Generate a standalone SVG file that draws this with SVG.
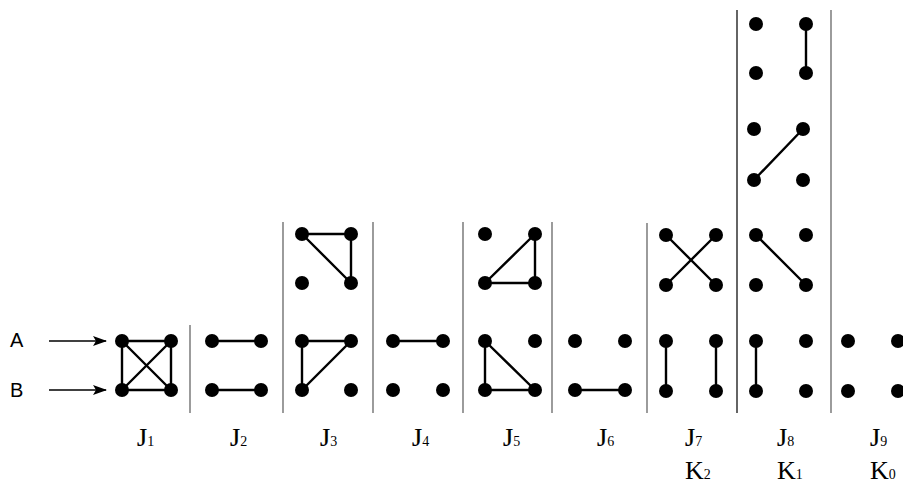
<svg xmlns="http://www.w3.org/2000/svg" width="903" height="485" viewBox="0 0 903 485">
  <style>
    .dot { fill: #000; }
    .edge { stroke: #000; stroke-width: 2.4; stroke-linecap: round; fill: none; }
    .sep { stroke: #666; stroke-width: 1.3; }
    .sep-dark { stroke: #111; stroke-width: 1.3; }
    .arrow { stroke: #000; stroke-width: 1.5; fill: none; }
    .io { font-family: "Liberation Sans", Arial, sans-serif; font-size: 20px; fill: #000; }
    .lbl { font-family: "Liberation Serif", "Times New Roman", serif; font-size: 26px; fill: #000; }
    .j { stroke: #000; stroke-width: 0.2; }
    .sub { font-size: 14px; stroke-width: 0; }
  </style>
  <defs>
    <marker id="head" markerWidth="14" markerHeight="10" refX="13" refY="5" orient="auto" markerUnits="userSpaceOnUse">
      <path d="M0,0 L14,5 L0,10 L3,5 Z" fill="#000"/>
    </marker>
    <circle id="d" r="7"/>
  </defs>

  <!-- column separators -->
  <g id="separators">
    <line class="sep" x1="190" y1="325" x2="190" y2="413"/>
    <line class="sep" x1="283" y1="222" x2="283" y2="413"/>
    <line class="sep" x1="373" y1="222" x2="373" y2="413"/>
    <line class="sep" x1="463" y1="222" x2="463" y2="413"/>
    <line class="sep" x1="552" y1="222" x2="552" y2="413"/>
    <line class="sep" x1="647" y1="223" x2="647" y2="413"/>
    <line class="sep-dark" x1="737" y1="10" x2="737" y2="413"/>
    <line class="sep" x1="831" y1="10" x2="831" y2="413"/>
  </g>

  <!-- input arrows -->
  <g id="inputs">
    <text class="io" x="10" y="347">A</text>
    <text class="io" x="10" y="397">B</text>
    <line class="arrow" x1="49" y1="341" x2="106" y2="341" marker-end="url(#head)"/>
    <line class="arrow" x1="49" y1="390" x2="106" y2="390" marker-end="url(#head)"/>
  </g>

  <!-- connectors (graph edges) -->
  <g id="edges">
    <!-- J1: complete graph -->
    <line class="edge" x1="122" y1="341" x2="171" y2="341"/>
    <line class="edge" x1="122" y1="390" x2="171" y2="390"/>
    <line class="edge" x1="122" y1="341" x2="122" y2="390"/>
    <line class="edge" x1="171" y1="341" x2="171" y2="390"/>
    <line class="edge" x1="122" y1="341" x2="171" y2="390"/>
    <line class="edge" x1="171" y1="341" x2="122" y2="390"/>
    <!-- J2 -->
    <line class="edge" x1="212" y1="341" x2="261" y2="341"/>
    <line class="edge" x1="212" y1="390" x2="261" y2="390"/>
    <!-- J3 -->
    <line class="edge" x1="302" y1="234" x2="351" y2="234"/>
    <line class="edge" x1="351" y1="234" x2="351" y2="283"/>
    <line class="edge" x1="302" y1="234" x2="351" y2="283"/>
    <line class="edge" x1="302" y1="341" x2="351" y2="341"/>
    <line class="edge" x1="302" y1="341" x2="302" y2="390"/>
    <line class="edge" x1="302" y1="390" x2="351" y2="341"/>
    <!-- J4 -->
    <line class="edge" x1="393" y1="341" x2="443" y2="341"/>
    <!-- J5 -->
    <line class="edge" x1="535" y1="234" x2="535" y2="283"/>
    <line class="edge" x1="485" y1="283" x2="535" y2="283"/>
    <line class="edge" x1="485" y1="283" x2="535" y2="234"/>
    <line class="edge" x1="485" y1="341" x2="485" y2="390"/>
    <line class="edge" x1="485" y1="390" x2="535" y2="390"/>
    <line class="edge" x1="485" y1="341" x2="535" y2="390"/>
    <!-- J6 -->
    <line class="edge" x1="575" y1="390" x2="625" y2="390"/>
    <!-- J7 -->
    <line class="edge" x1="666" y1="235" x2="716" y2="285"/>
    <line class="edge" x1="716" y1="235" x2="666" y2="285"/>
    <line class="edge" x1="666" y1="341" x2="666" y2="391"/>
    <line class="edge" x1="716" y1="341" x2="716" y2="391"/>
    <!-- J8 -->
    <line class="edge" x1="806" y1="24" x2="806" y2="73"/>
    <line class="edge" x1="754" y1="180" x2="803" y2="129"/>
    <line class="edge" x1="756" y1="235" x2="806" y2="285"/>
    <line class="edge" x1="756" y1="341" x2="756" y2="391"/>
  </g>

  <g id="J1">
    <use href="#d" x="122" y="341"/><use href="#d" x="171" y="341"/>
    <use href="#d" x="122" y="390"/><use href="#d" x="171" y="390"/>
    <text class="lbl j" x="137" y="446">J<tspan class="sub">1</tspan></text>
  </g>
  <g id="J2">
    <use href="#d" x="212" y="341"/><use href="#d" x="261" y="341"/>
    <use href="#d" x="212" y="390"/><use href="#d" x="261" y="390"/>
    <text class="lbl j" x="230" y="446">J<tspan class="sub">2</tspan></text>
  </g>
  <g id="J3">
    <use href="#d" x="302" y="234"/><use href="#d" x="351" y="234"/>
    <use href="#d" x="302" y="283"/><use href="#d" x="351" y="283"/>
    <use href="#d" x="302" y="341"/><use href="#d" x="351" y="341"/>
    <use href="#d" x="302" y="390"/><use href="#d" x="351" y="390"/>
    <text class="lbl j" x="320" y="446">J<tspan class="sub">3</tspan></text>
  </g>
  <g id="J4">
    <use href="#d" x="393" y="341"/><use href="#d" x="443" y="341"/>
    <use href="#d" x="393" y="390"/><use href="#d" x="443" y="390"/>
    <text class="lbl j" x="412" y="446">J<tspan class="sub">4</tspan></text>
  </g>
  <g id="J5">
    <use href="#d" x="485" y="234"/><use href="#d" x="535" y="234"/>
    <use href="#d" x="485" y="283"/><use href="#d" x="535" y="283"/>
    <use href="#d" x="485" y="341"/><use href="#d" x="535" y="341"/>
    <use href="#d" x="485" y="390"/><use href="#d" x="535" y="390"/>
    <text class="lbl j" x="503" y="446">J<tspan class="sub">5</tspan></text>
  </g>
  <g id="J6">
    <use href="#d" x="575" y="341"/><use href="#d" x="625" y="341"/>
    <use href="#d" x="575" y="390"/><use href="#d" x="625" y="390"/>
    <text class="lbl j" x="597" y="446">J<tspan class="sub">6</tspan></text>
  </g>
  <g id="J7">
    <use href="#d" x="666" y="235"/><use href="#d" x="716" y="235"/>
    <use href="#d" x="666" y="285"/><use href="#d" x="716" y="285"/>
    <use href="#d" x="666" y="341"/><use href="#d" x="716" y="341"/>
    <use href="#d" x="666" y="391"/><use href="#d" x="716" y="391"/>
    <text class="lbl j" x="685" y="446">J<tspan class="sub">7</tspan></text>
    <text class="lbl" x="685" y="479">K<tspan class="sub">2</tspan></text>
  </g>
  <g id="J8">
    <use href="#d" x="756" y="24"/><use href="#d" x="806" y="24"/>
    <use href="#d" x="756" y="73"/><use href="#d" x="806" y="73"/>
    <use href="#d" x="754" y="129"/><use href="#d" x="803" y="129"/>
    <use href="#d" x="754" y="180"/><use href="#d" x="803" y="180"/>
    <use href="#d" x="756" y="235"/><use href="#d" x="806" y="235"/>
    <use href="#d" x="756" y="285"/><use href="#d" x="806" y="285"/>
    <use href="#d" x="756" y="341"/><use href="#d" x="806" y="341"/>
    <use href="#d" x="756" y="391"/><use href="#d" x="806" y="391"/>
    <text class="lbl j" x="777" y="446">J<tspan class="sub">8</tspan></text>
    <text class="lbl" x="777" y="479">K<tspan class="sub">1</tspan></text>
  </g>
  <g id="J9">
    <use href="#d" x="848" y="341"/><use href="#d" x="898" y="341"/>
    <use href="#d" x="848" y="391"/><use href="#d" x="898" y="391"/>
    <text class="lbl j" x="870" y="446">J<tspan class="sub">9</tspan></text>
    <text class="lbl" x="870" y="479">K<tspan class="sub">0</tspan></text>
  </g>
</svg>
